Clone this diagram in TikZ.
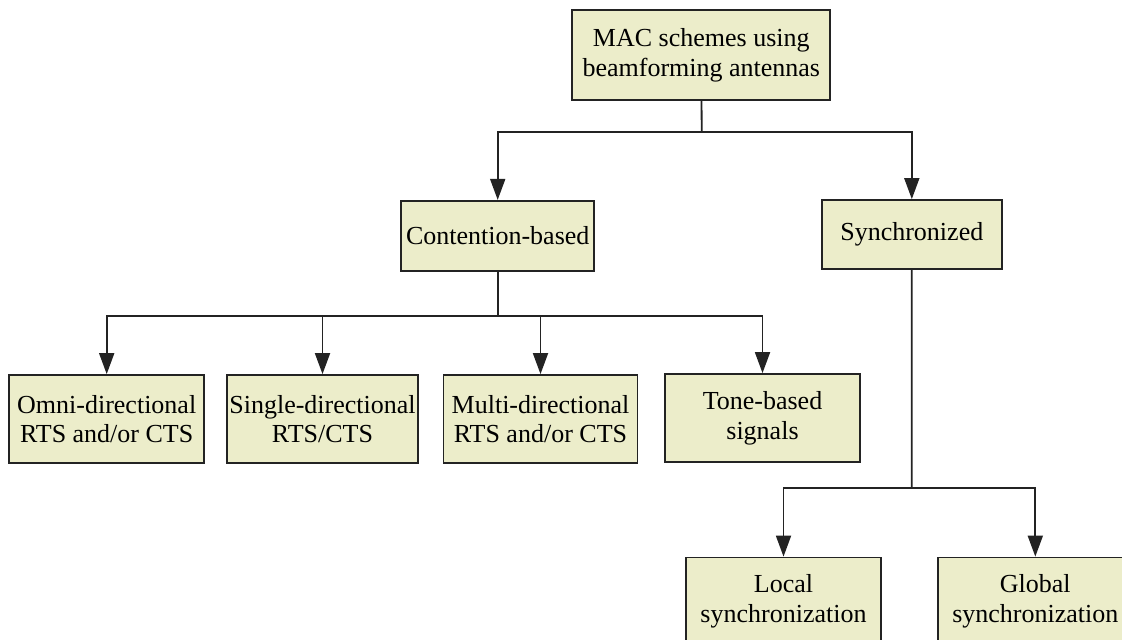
\documentclass[tikz,border=0pt]{standalone}
\usepackage{fontspec}
\setmainfont{Liberation Serif}
\usetikzlibrary{arrows.meta,positioning}
\definecolor{boxfill}{RGB}{236,237,202}
\definecolor{boxline}{RGB}{35,35,35}

\begin{document}
\begin{tikzpicture}[
  x=0.5pt,y=-0.5pt,
  n/.style={draw=boxline,fill=boxfill,line width=0.9pt,align=center,inner sep=0pt,
    minimum height=44pt,font=\fontsize{13}{14.8}\selectfont},
  arr/.style={draw=boxline,line width=0.9pt,-{Triangle[length=10.5pt,width=7.5pt]}},
  ln/.style={draw=boxline,line width=0.9pt}
]
\useasboundingbox (0,0) rectangle (1122,639);
\clip (0,0) rectangle (1122,639);
% Top
\node[n,minimum width=129pt,minimum height=45pt] (mac) at (701.3,55) {MAC schemes using\\beamforming antennas};
% Row 1
\node[n,minimum width=96.5pt,minimum height=35pt] (cont) at (497.7,235.8) {Contention-based};
\node[n,minimum width=90pt,minimum height=34.5pt] (sync) at (911.8,234.5) {Synchronized};
% Row 2
\node[n,minimum width=97.5pt] (omni) at (106.7,419) {Omni-directional\\RTS and/or CTS};
\node[n,minimum width=95.5pt] (single) at (322.5,419) {Single-directional\\RTS/CTS};
\node[n,minimum width=97pt] (multi) at (540.5,419) {Multi-directional\\RTS and/or CTS};
\node[n,minimum width=97.5pt] (tone) at (762.5,418) {Tone-based\\signals};
% Row 3
\node[n,minimum width=97.5pt] (local) at (783.5,601.5) {Local\\synchronization};
\node[n,minimum width=97.5pt] (global) at (1035.3,601.5) {Global\\synchronization};

\coordinate (b0) at (701.7,132.3);
\coordinate (b1) at (497.7,315.7);
\coordinate (b2) at (911.7,488.3);

\draw[ln] (mac) -- (b0);
\draw[arr] (b0) -| (cont);
\draw[arr] (b0) -| (sync);
\draw[ln] (cont) -- (b1);
\draw[arr] (b1) -| (omni);
\draw[arr] (b1) -| (single);
\draw[arr] (b1) -| (multi);
\draw[arr] (b1) -| (tone);
\draw[ln] (sync) -- (b2);
\draw[arr] (b2) -| (local);
\draw[arr] (b2) -| (global);
\end{tikzpicture}
\end{document}
